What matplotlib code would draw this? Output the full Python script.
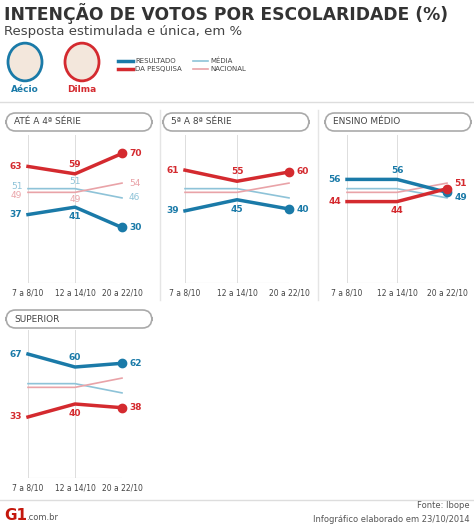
import matplotlib.pyplot as plt
from matplotlib.patches import FancyBboxPatch, Circle

datas = ['7 a 8/10', '12 a 14/10', '20 a 22/10']
paineis = ['ATÉ A 4ª SÉRIE', '5ª A 8ª SÉRIE', 'ENSINO MÉDIO', 'SUPERIOR']
aecio = [[37, 41, 30], [39, 45, 40], [56, 56, 49], [67, 60, 62]]
dilma = [[63, 59, 70], [61, 55, 60], [44, 44, 51], [33, 40, 38]]
media_aecio = [51, 51, 46]
media_dilma = [49, 49, 54]

AZUL = '#1a7aa8'
VERM = '#d42a2f'
AZUL_C = '#8ec3d8'
VERM_C = '#e9a3a8'

W, H = 474, 526
fig = plt.figure(figsize=(W / 100, H / 100), dpi=100)

def fx(px):
    return px / W

def fy(py):
    return 1 - py / H

# titulo
fig.text(fx(4), fy(14), 'INTENÇÃO DE VOTOS POR ESCOLARIDADE (%)', fontsize=12.3,
         fontweight='black', color='#333333', va='center')
fig.text(fx(4), fy(31), 'Resposta estimulada e única, em %', fontsize=9.5, color='#444444', va='center')

# candidatos
for cx, cor, nome in [(25, AZUL, 'Aécio'), (82, VERM, 'Dilma')]:
    fig.patches.append(Circle((fx(cx), fy(62)), 17 / W, transform=fig.transFigure,
                              facecolor='#f3e7dc', edgecolor=cor, lw=2))
    fig.text(fx(cx), fy(90), nome, color=cor, fontsize=6.5, fontweight='bold', ha='center', va='center')

# legenda
fig.lines.append(plt.Line2D([fx(118), fx(133)], [fy(61), fy(61)], color=AZUL, lw=2.5, transform=fig.transFigure))
fig.lines.append(plt.Line2D([fx(118), fx(133)], [fy(69), fy(69)], color=VERM, lw=2.5, transform=fig.transFigure))
fig.text(fx(135), fy(61), 'RESULTADO', fontsize=5, color='#444444', va='center')
fig.text(fx(135), fy(69), 'DA PESQUISA', fontsize=5, color='#444444', va='center')
fig.lines.append(plt.Line2D([fx(193), fx(208)], [fy(61), fy(61)], color=AZUL_C, lw=1.2, transform=fig.transFigure))
fig.lines.append(plt.Line2D([fx(193), fx(208)], [fy(69), fy(69)], color=VERM_C, lw=1.2, transform=fig.transFigure))
fig.text(fx(210), fy(61), 'MÉDIA', fontsize=5, color='#444444', va='center')
fig.text(fx(210), fy(69), 'NACIONAL', fontsize=5, color='#444444', va='center')

fig.lines.append(plt.Line2D([0, 1], [fy(102), fy(102)], color='#dddddd', lw=1, transform=fig.transFigure))
fig.lines.append(plt.Line2D([fx(160), fx(160)], [fy(110), fy(300)], color='#e5e5e5', lw=1, transform=fig.transFigure))
fig.lines.append(plt.Line2D([fx(318), fx(318)], [fy(110), fy(300)], color='#e5e5e5', lw=1, transform=fig.transFigure))

# posicoes dos paineis (px): esquerda, direita, topo, base, topo da caixa
pos = [(28, 122, 135, 283, 113), (185, 289, 135, 283, 113),
       (347, 447, 135, 283, 113), (28, 122, 330, 478, 310)]

for i, (x0, x1, y0, y1, by) in enumerate(pos):
    bx = x0 - 22
    fig.patches.append(FancyBboxPatch((fx(bx), fy(by + 18)), 146 / W, 18 / H,
                                      boxstyle='round,pad=0,rounding_size=0.02',
                                      transform=fig.transFigure, facecolor='white',
                                      edgecolor='#aaaaaa', lw=1.2))
    fig.text(fx(bx + 8), fy(by + 9), paineis[i], fontsize=6.5, color='#444444', va='center')

    ax = fig.add_axes([fx(x0), fy(y1), (x1 - x0) / W, (y1 - y0) / H])
    x = [0, 1, 2]
    ax.set_xlim(0, 2)
    ax.set_ylim(0, 80)
    for s in ax.spines.values():
        s.set_visible(False)
    ax.set_yticks([])
    ax.set_xticks(x)
    ax.set_xticklabels(datas, fontsize=5.5, color='#444444')
    ax.tick_params(axis='x', length=0, pad=4)
    for xi in x:
        ax.axvline(xi, color='#dddddd', lw=0.7, zorder=0)
    ax.axhline(0, color='#cccccc', lw=0.8)

    ax.plot(x, media_aecio, color=AZUL_C, lw=1.2, clip_on=False)
    ax.plot(x, media_dilma, color=VERM_C, lw=1.2, clip_on=False)
    ax.plot(x, aecio[i], color=AZUL, lw=2.5, clip_on=False)
    ax.plot(x, dilma[i], color=VERM, lw=2.5, clip_on=False)
    ax.plot([2], [aecio[i][2]], 'o', color=AZUL, ms=6, clip_on=False)
    ax.plot([2], [dilma[i][2]], 'o', color=VERM, ms=6, clip_on=False)

    for vals, other, cor in [(aecio[i], dilma[i], AZUL), (dilma[i], aecio[i], VERM)]:
        for j, v in enumerate(vals):
            up = v >= other[j]
            if j == 0:
                ax.text(-0.12, v, str(v), ha='right', va='center', fontsize=6.5, color=cor, fontweight='bold')
            elif j == 1:
                ax.text(1, v + (5 if up else -5), str(v), ha='center', va='center', fontsize=6.5, color=cor, fontweight='bold')
            else:
                dy = 0
                if abs(v - other[j]) < 5:
                    dy = 3 if up else -3
                ax.text(2.15, v + dy, str(v), ha='left', va='center', fontsize=6.5, color=cor, fontweight='bold')
    if i == 0:
        ax.text(-0.12, media_aecio[0] + 1.2, '51', ha='right', va='center', fontsize=6.5, color=AZUL_C)
        ax.text(-0.12, media_dilma[0] - 1.5, '49', ha='right', va='center', fontsize=6.5, color=VERM_C)
        ax.text(1, media_aecio[1] + 4, '51', ha='center', va='center', fontsize=6.5, color=AZUL_C)
        ax.text(1, media_dilma[1] - 4, '49', ha='center', va='center', fontsize=6.5, color=VERM_C)
        ax.text(2.15, media_aecio[2], '46', ha='left', va='center', fontsize=6.5, color=AZUL_C)
        ax.text(2.15, media_dilma[2], '54', ha='left', va='center', fontsize=6.5, color=VERM_C)

# rodape
fig.lines.append(plt.Line2D([0, 1], [fy(500), fy(500)], color='#dddddd', lw=1, transform=fig.transFigure))
fig.text(fx(4), fy(515), 'G1', fontsize=11, fontweight='black', color='#c4170c', va='center')
fig.text(fx(26), fy(517), '.com.br', fontsize=6, color='#555555', va='center')
fig.text(fx(470), fy(506), 'Fonte: Ibope', fontsize=6, color='#555555', ha='right', va='center')
fig.text(fx(470), fy(519), 'Infográfico elaborado em 23/10/2014', fontsize=6, color='#555555', ha='right', va='center')

fig.savefig('out.png', dpi=100, facecolor='white')
